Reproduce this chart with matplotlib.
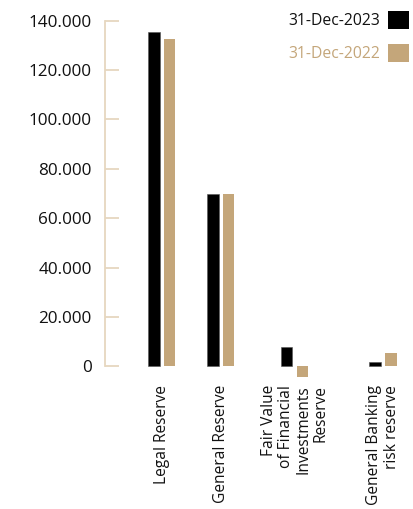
import matplotlib
matplotlib.use("Agg")
import matplotlib.pyplot as plt
from matplotlib.ticker import FuncFormatter, MultipleLocator
from matplotlib.patches import Patch

# Reserve balances
categories = ["Legal Reserve", "General Reserve",
              "Fair Value\nof Financial\nInvestments\nReserve",
              "General Banking\nrisk reserve"]
reserves_2023 = [135300, 70000, 7800, 1700]
reserves_2022 = [132400, 70000, -4400, 5300]
series_labels = ["31-Dec-2023", "31-Dec-2022"]

# Layout
group_pos = [0.0, 0.8, 1.8, 3.0]
bar_w = 0.155
offset = 0.107
dark = "#000000"
tan = "#C4A67A"
axis_col = "#E6D7BF"
text_col = "#111111"

plt.rcParams["font.family"] = ["Open Sans", "DejaVu Sans"]

fig = plt.figure(figsize=(4.14, 5.09), dpi=100)
W, H = 414, 509
top_px, bot_px = 20.7, 380.0
left_px, right_px = 105, 414
ax = fig.add_axes([left_px / W, 1 - bot_px / H, (right_px - left_px) / W, (bot_px - top_px) / H])

x23 = [p - offset for p in group_pos]
x22 = [p + offset for p in group_pos]
ax.bar(x23, reserves_2023, width=bar_w, color=dark, edgecolor="#555555", linewidth=0.4)
ax.bar(x22, reserves_2022, width=bar_w, color=tan, linewidth=0)

ax.set_xlim(-0.77, 3.42)
ax.set_ylim(-5500, 140000)
ax.yaxis.set_major_locator(MultipleLocator(20000))
ax.yaxis.set_major_formatter(FuncFormatter(lambda v, _: f"{int(v):,}".replace(",", ".")))

for s in ["top", "right", "bottom"]:
    ax.spines[s].set_visible(False)
ax.spines["left"].set_color(axis_col)
ax.spines["left"].set_linewidth(1.3)
ax.spines["left"].set_bounds(0, 140000)
ax.tick_params(axis="y", direction="in", length=10, width=1.3, color=axis_col,
               pad=9.5, labelsize=12.3, labelcolor=text_col)
ax.tick_params(axis="x", length=0, pad=3.6)
ax.set_xticks(group_pos)
ax.set_xticklabels(categories, rotation=90, fontsize=11.2, color=text_col,
                   va="top", ha="center", multialignment="right", linespacing=1.1)

handles = [Patch(facecolor=dark), Patch(facecolor=tan)]
leg = ax.legend(handles, series_labels, loc="upper right",
                bbox_to_anchor=(409 / W, 1 - 11 / H), bbox_transform=fig.transFigure,
                frameon=False, markerfirst=False, fontsize=11.3,
                handlelength=1.34, handleheight=1.34, handletextpad=0.5,
                labelspacing=0.96, borderaxespad=0, borderpad=0)
for t, c in zip(leg.get_texts(), [text_col, tan]):
    t.set_color(c)

fig.savefig("out.png", dpi=100)
